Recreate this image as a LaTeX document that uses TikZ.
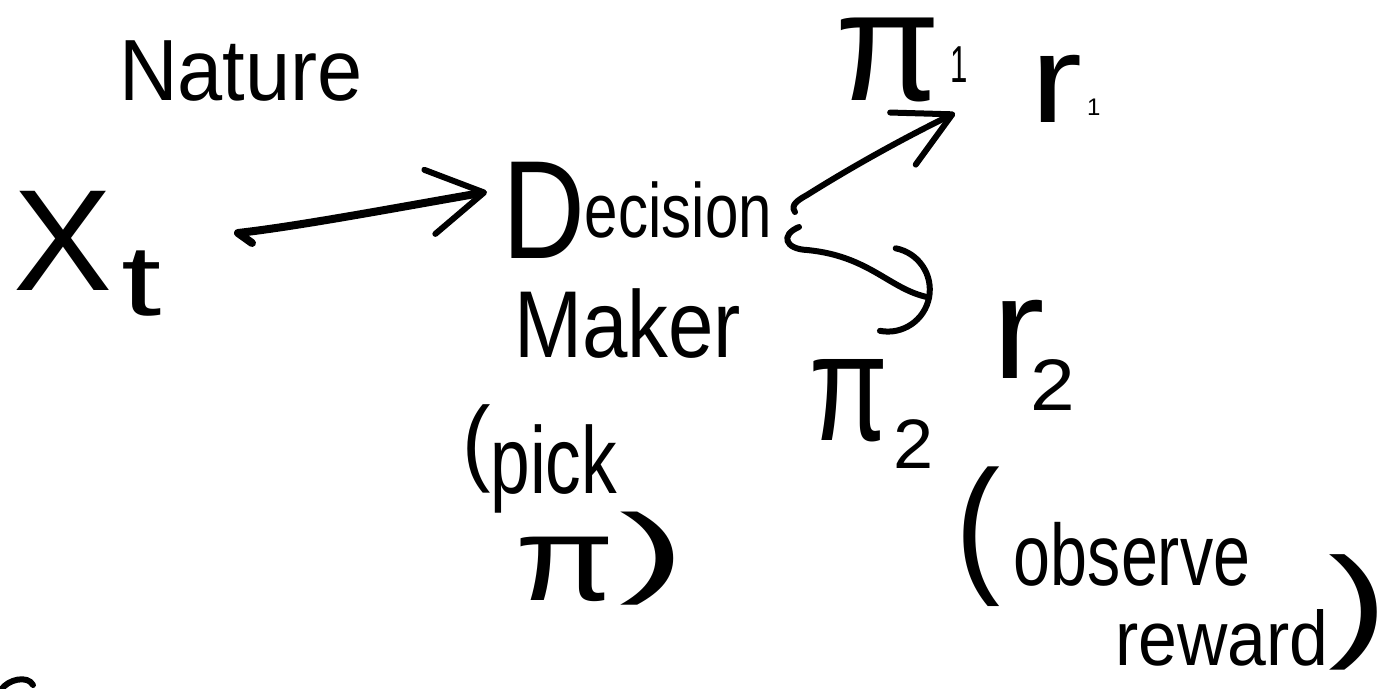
\documentclass[tikz,border=0pt]{standalone}
\usepackage{fontspec}
\setmainfont{Liberation Sans}
\usepackage{graphicx}
\usetikzlibrary{arrows.meta,calc}
\newcommand\gl[4]{\scalebox{#2}[#3]{\fontsize{#1}{#1}\selectfont #4}}
\begin{document}
\begin{tikzpicture}[x=1pt,y=-1pt,
  ink/.style={line width=6pt, line cap=round, line join=round},
  lbl/.style={inner sep=0pt, outer sep=0pt, anchor=base west},
]
\useasboundingbox (0,0) rectangle (1399,688);
\fill[white] (0,0) rectangle (1399,688);

\node[lbl] (nature) at (119,100) {\gl{82}{0.99}{1.06}{Nature}};
\node[lbl] (xt) at (13,290) {\gl{140}{1.06}{1.03}{X}\hspace{10pt}\raisebox{-25pt}{\gl{100}{1.45}{1}{t}}};
\node[lbl] (dec) at (502,237) {\raisebox{-21pt}{\gl{140}{0.82}{1}{D}}\gl{77}{0.78}{1}{ecision}};
\node[lbl] (maker) at (514,357) {\gl{95}{0.86}{1}{Maker}};
\node[lbl] (pick) at (462,493) {\raisebox{20pt}{\gl{95}{0.9}{1}{(}}\gl{95}{0.75}{1}{pick}};
\node[lbl] (pi) at (515,600) {\gl{120}{1.2}{1}{π}\hspace{5pt}\raisebox{16pt}{\gl{100}{2}{1}{)}}};
\node[lbl] (pione) at (835,100) {\gl{125}{1.22}{1.25}{π}\hspace{10pt}\raisebox{18pt}{\gl{52}{0.6}{1}{1}}};
\node[lbl] (rone) at (1030,122) {\gl{125}{1.25}{1}{r}\hspace{5pt}\raisebox{7pt}{\gl{24}{1}{1}{1}}};
\node[lbl] (pitwo) at (809,440) {\gl{130}{0.88}{1.18}{π}\hspace{6pt}\raisebox{-28pt}{\gl{70}{1.03}{1}{2}}};
\node[lbl] (rtwo) at (992,378) {\gl{150}{1.05}{0.97}{r}\hspace{-14pt}\raisebox{-32pt}{\gl{73}{1.1}{1}{2}}};
\node[lbl] (obs) at (955,585) {\raisebox{10pt}{\gl{150}{0.9}{1}{(}}\hspace{14pt}\gl{80}{0.83}{1.09}{observe}};
\node[lbl] (rew) at (1115,665) {\gl{75}{0.93}{1.03}{reward}\raisebox{21pt}{\gl{124}{1.45}{1}{)}}};

\coordinate (t0) at (252,243);
\coordinate (h0) at (487,192);
\draw[ink, line width=8pt, -{Straight Barb[length=55pt,width=65pt,line width=6pt,round]}]
  (t0) -- (238,233) .. controls (300,226) and (400,207) .. (h0);

\coordinate (t1) at (795,212);
\coordinate (h1) at (955,113);
\draw[ink, -{Straight Barb[length=55pt,width=58pt,round]}]
  (t1) .. controls (790,205) and (798,200) .. (807,195) .. controls (850,168) and (900,140) .. (h1);

\coordinate (t2) at (799,227);
\coordinate (h2) at (932,298);
\draw[ink, -{Arc Barb[length=45pt,width=90pt,round]}]
  (t2) .. controls (780,235) and (785,249) .. (807,250) .. controls (870,256) and (890,290) .. (h2);

\draw[ink] (1,690) .. controls (8,679) and (28,675) .. (33,685);
\end{tikzpicture}
\end{document}
